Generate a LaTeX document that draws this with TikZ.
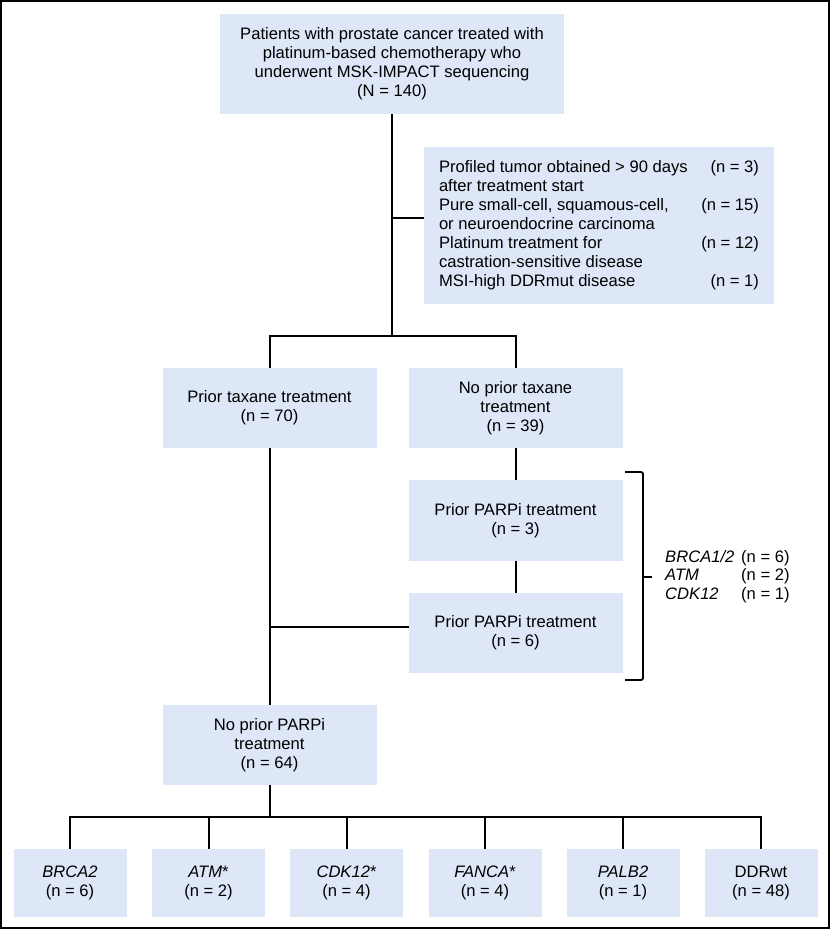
\documentclass[tikz,border=0pt]{standalone}
\usepackage{fontspec}
\setmainfont{Liberation Sans}
\definecolor{boxblue}{RGB}{221,231,247}
\begin{document}
\begin{tikzpicture}[x=1pt,y=-1pt,
  box/.style={fill=boxblue,inner sep=0pt,align=center,font=\fontsize{16.6}{19}\selectfont},
  midbox/.style={box,minimum width=214pt,minimum height=80pt},
  genebox/.style={box,minimum width=113pt,minimum height=68pt},
  conn/.style={draw=black,line width=2pt}]
\useasboundingbox (0,0) rectangle (832,931);
\draw[line width=1.6pt] (1,1) rectangle (829,928);

\node[box,minimum width=344pt,minimum height=100pt] (top) at (392,64)
  {Patients with prostate cancer treated with\\platinum-based chemotherapy who\\underwent MSK-IMPACT sequencing\\(N = 140)};
\node[box,minimum width=350pt,minimum height=157pt] (excl) at (599,225.5)
  {\begin{tabular*}{320pt}{@{}l@{\extracolsep{\fill}}r@{}}
   Profiled tumor obtained > 90 days & (n = 3)\\
   after treatment start & \\
   Pure small-cell, squamous-cell, & (n = 15)\\
   or neuroendocrine carcinoma & \\
   Platinum treatment for & (n = 12)\\
   castration-sensitive disease & \\
   MSI-high DDRmut disease & (n = 1)
   \end{tabular*}};
\node[midbox] (taxane) at (269.5,408) {Prior taxane treatment\\(n = 70)};
\node[midbox] (notaxane) at (515.5,408) {No prior taxane\\treatment\\(n = 39)};
\node[midbox,minimum height=81pt] (parpi1) at (515.5,520.5) {Prior PARPi treatment\\(n = 3)};
\node[midbox] (parpi2) at (515.5,633) {Prior PARPi treatment\\(n = 6)};
\node[midbox] (noparpi) at (269.5,745) {No prior PARPi\\treatment\\(n = 64)};

\node[genebox] (g1) at (70,883) {\itshape BRCA2\\(n = 6)};
\node[genebox] (g2) at (208.5,883) {\textit{ATM}*\\(n = 2)};
\node[genebox] (g3) at (346.5,883) {\textit{CDK12}*\\(n = 4)};
\node[genebox] (g4) at (485,883) {\textit{FANCA}*\\(n = 4)};
\node[genebox] (g5) at (623,883) {\itshape PALB2\\(n = 1)};
\node[genebox] (g6) at (761,883) {DDRwt\\(n = 48)};

\node[anchor=west,inner sep=0pt,font=\fontsize{16.6}{18.5}\selectfont] (genes) at (665,577)
  {\begin{tabular}{@{}p{76pt}@{}l@{}}
   \textit{BRCA1/2} & (n = 6)\\
   \textit{ATM} & (n = 2)\\
   \textit{CDK12} & (n = 1)
   \end{tabular}};

\coordinate (b1) at (392,336);
\coordinate (ej) at (424,218);
\coordinate (pj) at (409,626.5);
\coordinate (b2) at (269.5,817);
\coordinate (brt) at (625,472);
\coordinate (brb) at (625,680);
\coordinate (brm) at (652,577);

\draw[conn] (top.south) -- (b1);
\draw[conn] (top.south |- ej) -- (ej);
\draw[conn] (taxane.north) |- (b1) -| (notaxane.north);
\draw[conn] (notaxane.south) -- (parpi1.north);
\draw[conn] (parpi1.south) -- (parpi2.north);
\draw[conn] (taxane.south) -- (noparpi.north);
\draw[conn] (pj) -- (pj -| taxane.south);
\draw[conn] (noparpi.south) -- (b2);
\draw[conn] (g1.north) |- (b2) -| (g6.north);
\foreach \g in {g2,g3,g4,g5} \draw[conn] (\g.north) -- (\g.north |- b2);

\draw[conn,line width=1.8pt,rounded corners=2pt] (brt) -- (643,472) -- (643,680) -- (brb);
\draw[conn,line width=1.8pt] (643,577) -- (brm);
\end{tikzpicture}
\end{document}
